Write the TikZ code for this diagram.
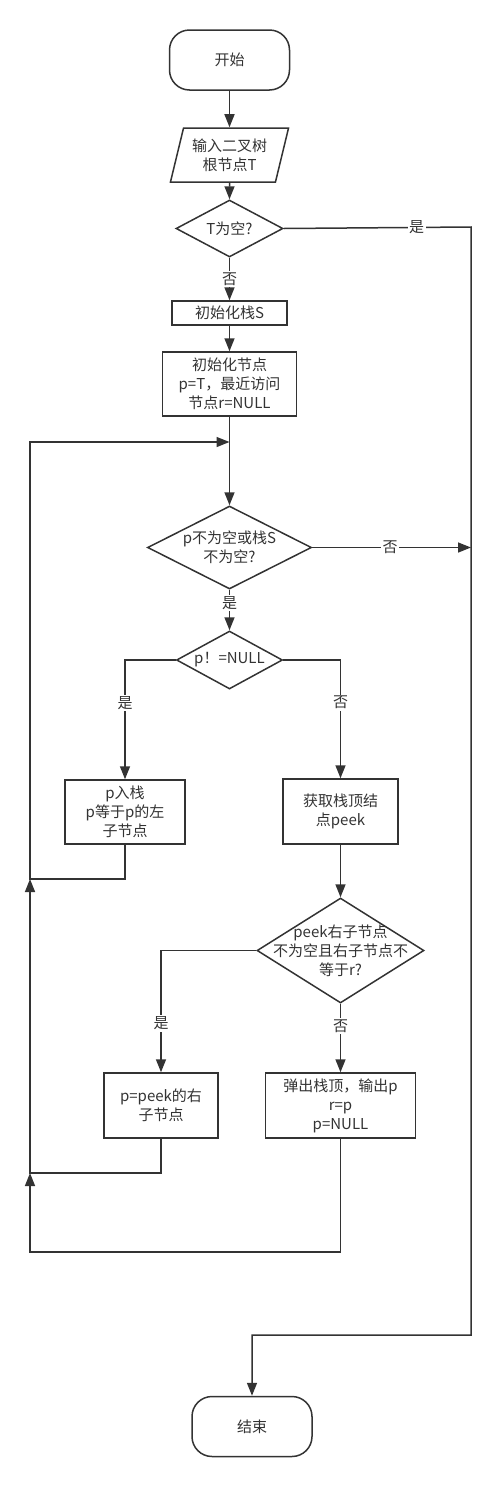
\documentclass[tikz,border=0pt]{standalone}
\usepackage{fontspec}
\setmainfont{Noto Sans CJK SC}
\usetikzlibrary{arrows.meta, shapes.geometric}
\definecolor{ink}{HTML}{333333}
\tikzset{
  base/.style = {font=\fontsize{15}{19}\selectfont, text=ink, align=center},
  term/.style = {base, draw=ink, line width=1.5pt, rectangle, rounded corners=20pt,
                 minimum width=120pt, minimum height=60pt},
  io/.style   = {base, draw=ink, line width=1.5pt, trapezium, trapezium left angle=72,
                 trapezium right angle=108, trapezium stretches=true,
                 minimum width=119pt, minimum height=54pt, inner sep=0pt},
  blk/.style  = {base, draw=ink, line width=1.5pt, rectangle, inner sep=2pt},
  dec/.style  = {draw=ink, line width=1.5pt, diamond, inner sep=0pt},
  txt/.style  = {base, inner sep=0pt},
  ln/.style   = {draw=ink, line width=1.5pt},
  ar/.style   = {ln, -{Triangle[length=13pt, width=10pt]}},
  lbl/.style  = {base, fill=white, inner sep=1.5pt},
}
\begin{document}
\begin{tikzpicture}[x=1pt, y=-1pt]
  \useasboundingbox (0,0) rectangle (500,1486);
  % main column
  \node[term] (start) at (229.5,60) {开始};
  \node[io] (in) at (229.5,155) {输入二叉树\\根节点T};
  \node[dec, minimum width=107pt, minimum height=57pt] (d1) at (229.5,228.5) {};
  \node[txt] (d1t) at (d1) {T为空?};
  \node[blk, minimum width=115pt, minimum height=24pt] (b1) at (229.5,313) {初始化栈S};
  \node[blk, minimum width=134pt, minimum height=64pt] (b2) at (229.5,384)
    {初始化节点\\p=T，最近访问\\节点r=NULL};
  \node[dec, minimum width=164pt, minimum height=83pt] (d2) at (229.5,547.5) {};
  \node[txt] (d2t) at (d2) {p不为空或栈S\\不为空?};
  \node[dec, minimum width=106pt, minimum height=58pt] (d3) at (229.5,660) {};
  \node[txt] (d3t) at (d3) {p！=NULL};
  % branches
  \node[blk, minimum width=120pt, minimum height=64pt] (b3) at (125,812)
    {p入栈\\p等于p的左\\子节点};
  \node[blk, minimum width=115pt, minimum height=65pt] (b4) at (340.5,811.5)
    {获取栈顶结\\点peek};
  \node[dec, minimum width=167pt, minimum height=105pt] (d4) at (340.5,950.5) {};
  \node[txt] (d4t) at (d4) {peek右子节点\\不为空且右子节点不\\等于r?};
  \node[blk, minimum width=114pt, minimum height=65pt] (b5) at (161,1105.5)
    {p=peek的右\\子节点};
  \node[blk, minimum width=150pt, minimum height=65pt] (b6) at (340.5,1105.5)
    {弹出栈顶，输出p\\r=p\\p=NULL};
  \node[term] (stop) at (252,1426.5) {结束};
  % bends
  \coordinate (rt) at (471,227);
  \coordinate (rb) at (471,1335);
  \coordinate (r2) at (471,547.5);
  \coordinate (j1) at (229.5,442);
  \coordinate (c0) at (30,442);
  \coordinate (c1) at (30,879);
  \coordinate (c2) at (30,1173);
  \coordinate (c3) at (30,1252);
  % connectors
  \draw[ar] (start) -- (in);
  \draw[ar] (in) -- (d1);
  \draw[ar] (d1.south) -- node[lbl]{否} (b1.north);
  \draw[ar] (b1) -- (b2);
  \draw[ar] (b2) -- (d2);
  \draw[ar] (d2.south) -- node[lbl, pos=0.33]{是} (d3.north);
  \draw[ar] (d1.east) -- node[lbl, pos=0.71]{是} (rt) -- (rb) -| (stop.north);
  \draw[ar] (d2.east) -- node[lbl, pos=0.49]{否} (r2);
  \draw[ar] (d3.west) -| node[lbl, pos=0.68]{是} (b3.north);
  \draw[ar] (d3.east) -| node[lbl, pos=0.68]{否} (b4.north);
  \draw[ar] (b4) -- (d4);
  \draw[ar] (d4.west) -| node[lbl, pos=0.8]{是} (b5.north);
  \draw[ar] (d4.south) -- node[lbl, pos=0.33]{否} (b6.north);
  % loops back
  \draw[ar] (b3.south) |- (c1) -- (c0) -- (j1);
  \draw[ar] (b5.south) |- (c2) -- (c1);
  \draw[ar] (b6.south) |- (c3) -- (c2);
\end{tikzpicture}
\end{document}
